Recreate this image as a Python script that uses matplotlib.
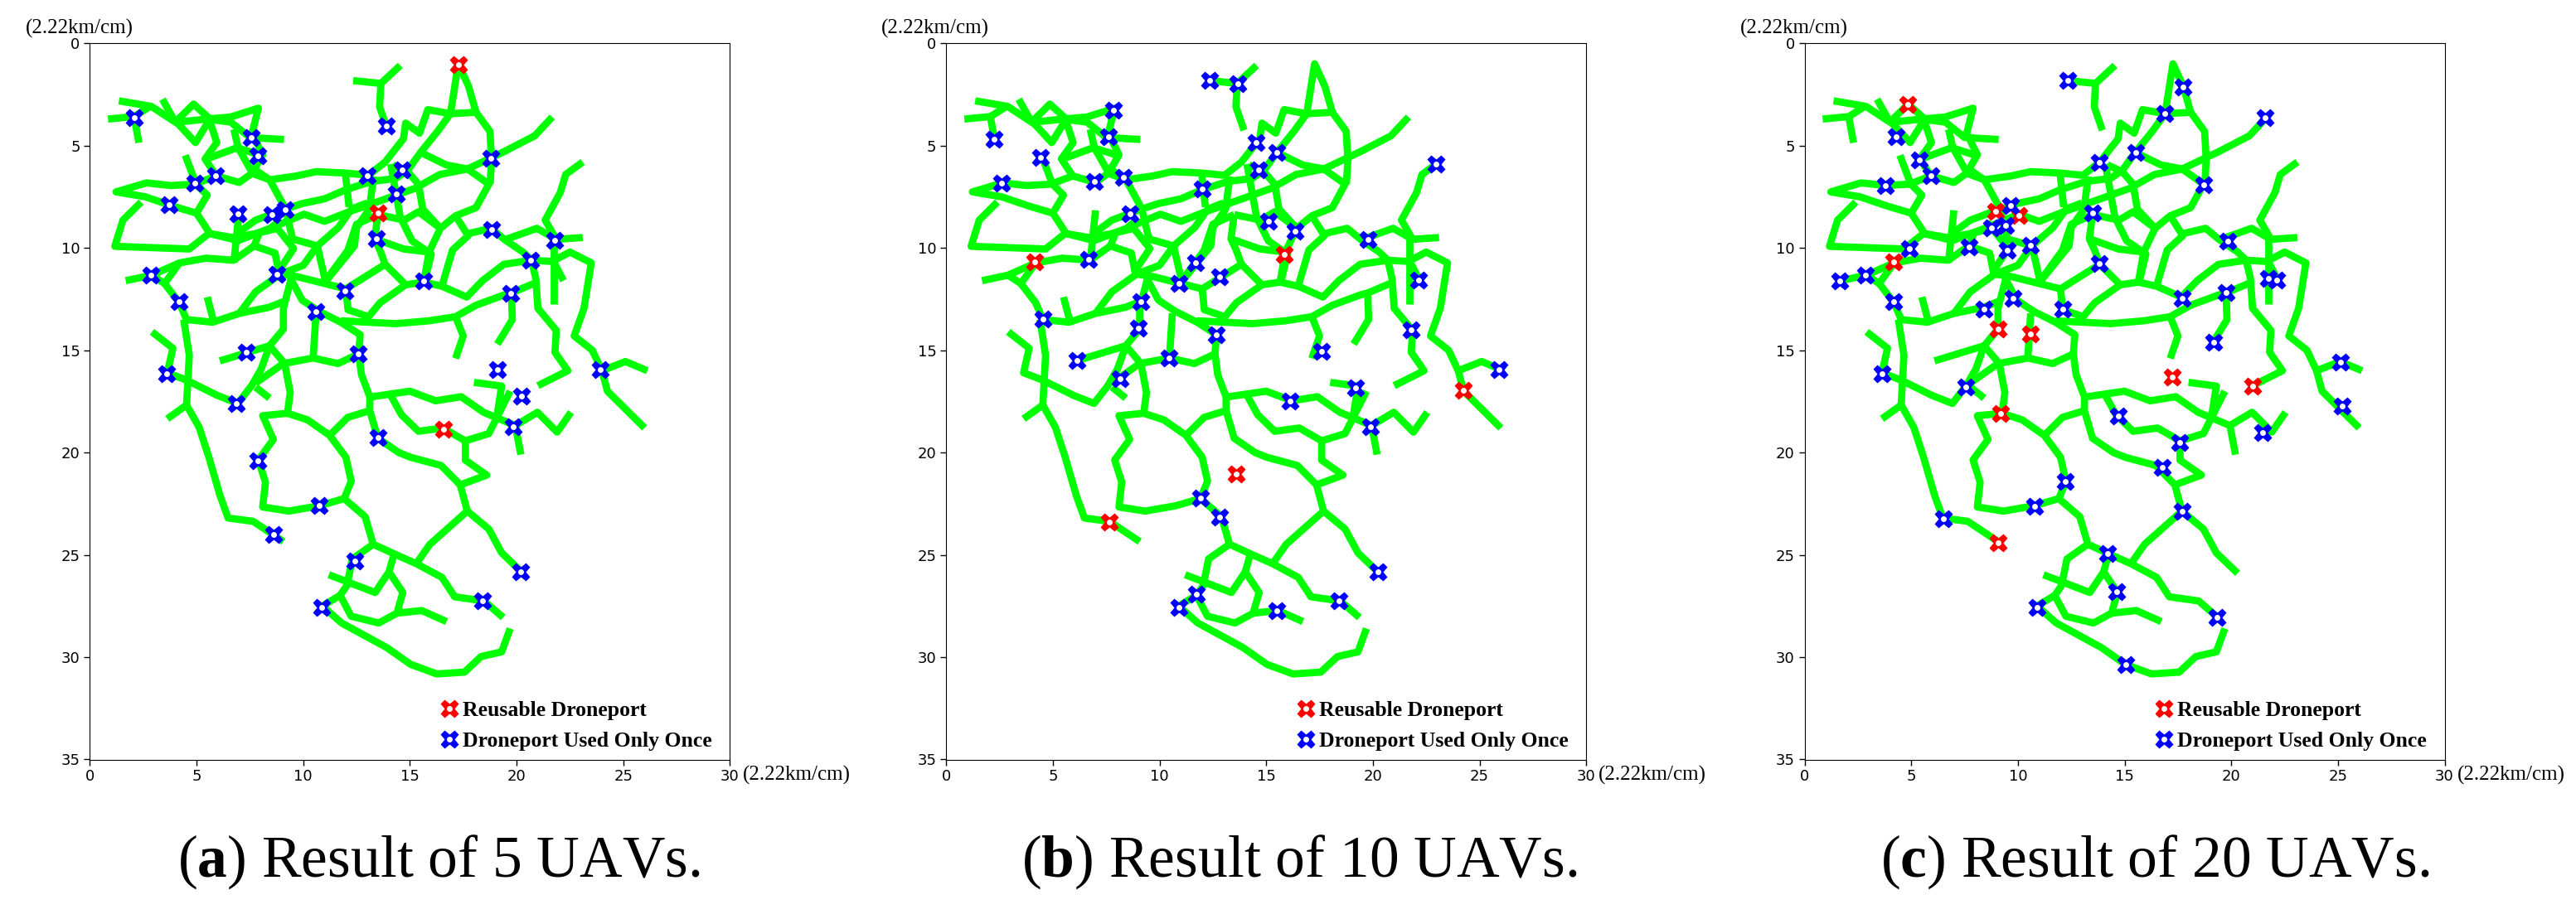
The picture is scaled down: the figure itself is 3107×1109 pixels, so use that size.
import matplotlib
matplotlib.use("Agg")
import matplotlib.pyplot as plt
from matplotlib.legend_handler import HandlerTuple
from matplotlib.lines import Line2D

plt.rcParams["mathtext.fontset"] = "custom"
plt.rcParams["mathtext.rm"] = "Liberation Serif"
plt.rcParams["mathtext.bf"] = "Liberation Serif:bold"

W, H = 3107, 1109
AX_LEFT = [108.4, 1141.2, 2176.5]
AX_WIDTH = 772.0
AX_TOP = 52.3
AX_BOTTOM = 916.5
CAPTION_X = [214, 1232, 2268]

# road network, same in the three panels (x, y in the 2.22km/cm units)
roads = [
    [(0.85, 3.7), (2.07, 3.58), (2.88, 3.05)],
    [(2.07, 3.58), (2.3, 4.86)],
    [(1.36, 2.81), (2.88, 3.08), (4.15, 3.95), (4.95, 4.85), (5.6, 3.75)],
    [(3.4, 2.73), (4.0, 3.85)],
    [(4.0, 3.85), (4.86, 2.97), (5.57, 3.64), (5.95, 4.85), (5.4, 5.65), (5.93, 6.48), (7.0, 6.8),
     (7.6, 6.35), (8.43, 6.67), (9.69, 6.48), (10.6, 6.27), (12.0, 6.34), (13.05, 6.45), (13.84, 5.8),
     (14.7, 4.66), (14.8, 3.9), (15.45, 4.39), (15.84, 3.24), (16.9, 3.44), (18.1, 3.37), (18.75, 4.3),
     (18.83, 5.67), (18.76, 6.88)],
    [(4.1, 3.85), (5.5, 3.7), (6.6, 3.6), (7.9, 3.17), (7.6, 4.4), (8.1, 5.45), (7.6, 6.35)],
    [(5.5, 3.7), (6.6, 3.85), (7.5, 4.6), (9.1, 4.7)],
    [(6.75, 4.2), (6.95, 5.1), (7.6, 6.3)],
    [(5.6, 5.6), (6.9, 5.1), (8.1, 5.5)],
    [(16.9, 3.44), (17.27, 1.0), (17.75, 2.1), (18.1, 3.37)],
    [(16.9, 3.44), (16.3, 4.3), (15.5, 5.33), (14.9, 6.2), (14.35, 6.6), (13.2, 6.75), (12.0, 7.15),
     (11.0, 7.6), (9.95, 7.83), (9.0, 8.16), (7.77, 8.64), (6.9, 9.3)],
    [(21.67, 3.6), (20.85, 4.52), (19.4, 5.3), (17.7, 6.14), (16.4, 6.41), (15.26, 7.08), (13.6, 7.7),
     (12.15, 8.23), (11.0, 8.7), (10.04, 8.35), (8.55, 9.0), (6.94, 9.64), (5.63, 9.3), (5.0, 8.3),
     (3.9, 7.96), (2.6, 7.5), (1.23, 7.26), (2.65, 6.82), (3.8, 6.95), (4.92, 6.88), (5.93, 6.48)],
    [(15.5, 5.33), (16.7, 5.94), (17.7, 6.14), (18.7, 6.88), (18.1, 8.03), (17.14, 8.43), (16.43, 9.04),
     (15.9, 10.2), (15.65, 11.67), (16.5, 11.87), (17.66, 12.4), (18.4, 11.6), (19.4, 10.8), (20.7, 10.6),
     (21.67, 10.66), (22.5, 10.2), (23.5, 10.73), (23.16, 12.95), (22.7, 14.3), (23.55, 15.0), (24.0, 16.0),
     (24.26, 17.0), (26.0, 18.8)],
    [(17.14, 8.43), (17.73, 9.4), (17.0, 10.1), (16.5, 11.87)],
    [(17.73, 9.3), (18.8, 9.04), (19.45, 9.6), (20.3, 10.2), (20.7, 10.6), (20.9, 11.5), (21.0, 12.95),
     (21.86, 14.03), (21.8, 15.1), (22.4, 16.0), (21.0, 16.73)],
    [(19.45, 9.6), (20.95, 9.04), (21.86, 9.58), (23.1, 9.49)],
    [(21.86, 9.58), (21.34, 8.64), (22.05, 7.29), (22.3, 6.41), (23.1, 5.8)],
    [(21.73, 9.5), (21.73, 12.75)],
    [(21.8, 10.8), (22.2, 11.6)],
    [(24.0, 16.0), (25.1, 15.55), (26.13, 16.0)],
    [(12.34, 1.82), (13.64, 1.96), (14.55, 1.08)],
    [(13.64, 1.96), (13.58, 3.1), (13.96, 4.25)],
    [(13.3, 6.5), (13.1, 8.1), (12.5, 9.0), (12.4, 9.9), (11.0, 11.7)],
    [(14.1, 5.9), (14.55, 8.5), (15.1, 9.65), (16.0, 10.3), (15.7, 11.6)],
    [(14.2, 5.94), (14.9, 6.28), (15.4, 6.88), (15.6, 8.1), (16.43, 9.04)],
    [(11.96, 6.2), (12.15, 8.0)],
    [(13.5, 8.37), (13.35, 9.55), (13.6, 10.12), (13.84, 10.8), (14.8, 11.8), (15.65, 11.67)],
    [(13.35, 9.55), (14.7, 10.05), (15.9, 10.2)],
    [(13.5, 8.37), (14.74, 8.64), (15.4, 8.23), (16.43, 9.04)],
    [(13.5, 8.37), (12.5, 8.84), (12.09, 10.12), (11.05, 11.6)],
    [(14.8, 11.8), (13.6, 12.68), (13.06, 13.36), (12.1, 13.02), (12.0, 12.0), (13.84, 10.8)],
    [(5.0, 8.3), (5.5, 7.42), (4.98, 6.88), (4.47, 5.47)],
    [(5.63, 9.3), (6.74, 9.5), (7.77, 9.3), (8.8, 9.04)],
    [(2.4, 7.76), (1.55, 8.64), (1.17, 9.92), (4.66, 10.05), (5.57, 9.3)],
    [(7.0, 8.16), (6.75, 10.7)],
    [(7.7, 9.9), (7.95, 9.25)],
    [(1.68, 11.6), (2.9, 11.33), (4.2, 10.73), (5.44, 10.5), (6.74, 10.6), (7.7, 9.9), (8.68, 10.25), (8.87, 11.27),
     (9.7, 11.4), (12.0, 12.0)],
    [(2.9, 11.33), (3.5, 11.74), (4.2, 12.68), (4.53, 13.5), (5.76, 13.63), (7.0, 13.2), (8.4, 12.9), (9.13, 12.6)],
    [(3.5, 11.74), (4.2, 10.73)],
    [(5.5, 12.4), (5.83, 13.7)],
    [(7.0, 13.2), (7.77, 12.14), (8.94, 11.27), (10.0, 10.85), (10.66, 9.9), (11.65, 9.0), (12.27, 8.09), (13.0, 7.8)],
    [(10.66, 9.9), (11.03, 11.58)],
    [(9.3, 9.5), (10.66, 9.9)],
    [(8.55, 8.73), (9.55, 10.03), (8.8, 11.2)],
    [(7.7, 6.15), (8.43, 6.67), (9.17, 8.09), (9.55, 9.77)],
    [(9.46, 11.4), (9.07, 12.95), (9.07, 13.97), (8.42, 14.78), (8.03, 15.92), (7.58, 16.73), (6.93, 17.6),
     (5.96, 17.2), (4.53, 16.46), (3.63, 16.1), (3.89, 14.9), (2.91, 14.1)],
    [(4.4, 13.5), (4.66, 15.25), (4.53, 17.68), (3.63, 18.35)],
    [(4.53, 17.68), (5.12, 18.76), (5.58, 20.23), (6.1, 22.1), (6.48, 23.2), (7.65, 23.36), (9.07, 24.35)],
    [(6.09, 15.52), (8.42, 14.78), (9.13, 15.65), (9.39, 17.07), (9.26, 18.08), (8.1, 18.2), (8.6, 19.36),
     (7.9, 20.36), (8.23, 21.45), (8.1, 22.66), (9.33, 22.86), (10.76, 22.6), (11.92, 22.25), (12.9, 23.13),
     (13.28, 24.48), (14.26, 24.95), (15.3, 25.43), (16.5, 26.1), (17.1, 27.05), (18.47, 27.25), (19.37, 28.06)],
    [(7.77, 16.6), (9.07, 15.65), (10.47, 15.38), (11.63, 15.65), (12.6, 15.18)],
    [(7.77, 16.8), (8.42, 17.34)],
    [(10.6, 13.2), (10.47, 15.3)],
    [(9.26, 18.08), (10.2, 18.4), (11.24, 19.16), (12.0, 20.23), (12.25, 21.4), (11.92, 22.25)],
    [(11.24, 19.16), (12.09, 18.28), (13.12, 17.95)],
    [(9.46, 11.6), (9.95, 12.55), (10.73, 13.09), (11.76, 13.63), (12.67, 14.24), (12.6, 15.18), (12.73, 16.2),
     (13.12, 17.27), (13.12, 17.95), (13.5, 19.3), (14.48, 20.0), (15.03, 20.23), (16.46, 20.63), (17.36, 21.58),
     (17.69, 22.86), (18.7, 23.74), (19.3, 24.9), (20.3, 25.9)],
    [(17.36, 21.58), (18.6, 21.1), (17.6, 20.37), (17.6, 19.43), (18.7, 19.07), (19.07, 18.3), (19.3, 16.75), (18.0, 16.57)],
    [(19.7, 17.0), (19.07, 18.3)],
    [(13.25, 17.27), (15.0, 17.0), (16.2, 17.47), (17.4, 17.27), (18.45, 18.03), (19.94, 18.68), (20.98, 18.03),
     (21.9, 19.0), (22.55, 18.03)],
    [(19.94, 18.68), (20.2, 20.1)],
    [(14.1, 17.2), (14.6, 18.15), (15.4, 18.96), (16.55, 18.8), (17.6, 19.43)],
    [(11.76, 13.56), (14.35, 13.7), (15.9, 13.56), (17.14, 13.36), (18.1, 12.8), (19.4, 12.3), (19.76, 12.2), (20.8, 11.74)],
    [(19.76, 12.2), (19.8, 13.5), (19.1, 14.7)],
    [(17.14, 13.36), (17.5, 14.3), (17.14, 15.4)],
    [(15.3, 25.43), (15.94, 24.48), (17.69, 22.86)],
    [(14.26, 24.95), (14.02, 25.83), (13.37, 26.84), (11.2, 25.97)],
    [(14.02, 25.83), (14.67, 26.84), (14.39, 27.85), (13.54, 28.33), (12.25, 28.0), (11.73, 26.98)],
    [(14.39, 27.85), (15.55, 27.72), (16.72, 28.26)],
    [(13.28, 24.48), (12.3, 25.2), (12.05, 26.5), (11.73, 26.98), (10.9, 27.5), (11.8, 28.33), (13.93, 29.54),
     (15.03, 30.35), (16.26, 30.82), (17.56, 30.73), (18.34, 29.97), (19.3, 29.74), (19.7, 28.6)],
]

reuse_a = [(17.26, 1.03), (13.51, 8.29), (16.56, 18.88)]
once_a = [(2.08, 3.64), (7.56, 4.6), (7.88, 5.5), (13.91, 4.03), (18.8, 5.63), (14.65, 6.2), (12.99, 6.48),
          (5.88, 6.48), (4.93, 6.85), (14.36, 7.34), (3.72, 7.9), (6.94, 8.32), (8.55, 8.37), (9.17, 8.14),
          (18.82, 9.09), (13.44, 9.56), (21.8, 9.61), (20.65, 10.59), (2.85, 11.31), (8.78, 11.29),
          (15.65, 11.62), (11.95, 12.09), (19.74, 12.22), (4.17, 12.63), (10.61, 13.1), (7.31, 15.09),
          (12.57, 15.16), (19.09, 15.94), (23.93, 15.94), (3.6, 16.15), (20.23, 17.26), (6.87, 17.59),
          (19.86, 18.73), (13.49, 19.25), (7.86, 20.38), (10.74, 22.6), (8.63, 24.02), (12.42, 25.29),
          (20.2, 25.83), (18.4, 27.25), (10.86, 27.56)]

reuse_b = [(4.16, 10.69), (15.85, 10.31), (24.25, 16.97), (13.6, 21.03), (7.65, 23.38)]
once_b = [(12.36, 1.81), (13.67, 1.96), (7.83, 3.25), (7.6, 4.57), (2.25, 4.68), (14.52, 4.83), (15.51, 5.32),
          (4.43, 5.58), (22.96, 5.89), (14.66, 6.2), (8.3, 6.56), (6.96, 6.77), (2.58, 6.85), (11.99, 7.13),
          (8.6, 8.34), (15.11, 8.71), (16.35, 9.17), (19.79, 9.58), (6.69, 10.54), (11.69, 10.72),
          (12.83, 11.42), (22.15, 11.57), (10.92, 11.75), (9.12, 12.63), (8.99, 13.9), (4.53, 13.48),
          (21.8, 14.0), (12.68, 14.26), (17.59, 15.06), (10.45, 15.37), (6.14, 15.5), (8.15, 16.4),
          (19.2, 16.82), (25.91, 15.96), (16.1, 17.49), (19.87, 18.73), (11.94, 22.24), (12.83, 23.15),
          (20.24, 25.83), (18.4, 27.25), (11.72, 26.94), (10.9, 27.56), (15.51, 27.74)]

reuse_c = [(4.83, 2.97), (8.97, 8.21), (10.06, 8.42), (4.16, 10.69), (9.09, 13.95), (10.6, 14.21),
           (17.24, 16.3), (21.0, 16.74), (9.19, 18.08), (9.07, 24.39)]
once_c = [(12.34, 1.81), (17.74, 2.12), (16.89, 3.44), (21.6, 3.62), (4.29, 4.55), (15.51, 5.32), (5.4, 5.71),
          (13.82, 5.81), (5.92, 6.48), (18.73, 6.92), (3.77, 6.97), (9.66, 7.93), (13.5, 8.29), (8.77, 9.02),
          (9.44, 8.89), (19.82, 9.66), (10.6, 9.87), (4.93, 10.02), (7.7, 9.97), (9.49, 10.1), (13.82, 10.75),
          (2.87, 11.31), (1.66, 11.62), (21.75, 11.5), (22.15, 11.57), (19.77, 12.19), (17.69, 12.45),
          (9.76, 12.45), (4.19, 12.63), (8.4, 12.97), (12.09, 12.99), (19.17, 14.6), (25.12, 15.58),
          (3.62, 16.15), (7.56, 16.79), (25.19, 17.72), (14.69, 18.21), (21.48, 19.01), (17.59, 19.5),
          (16.77, 20.72), (12.24, 21.42), (10.78, 22.63), (17.69, 22.86), (6.51, 23.22), (14.22, 24.95),
          (14.64, 26.81), (10.9, 27.56), (19.32, 28.06), (15.06, 30.35)]

panels = [(reuse_a, once_a, "a", "5"), (reuse_b, once_b, "b", "10"), (reuse_c, once_c, "c", "20")]
unit_label = "(2.22km/cm)"
legend_labels = ["Reusable Droneport", "Droneport Used Only Once"]


def draw_ports(ax, ports, colour):
    xs = [p[0] for p in ports]
    ys = [p[1] for p in ports]
    ax.plot(xs, ys, ls="", marker="X", ms=16.5, mfc=colour, mec="none", zorder=3)
    ax.plot(xs, ys, ls="", marker="o", ms=5, mfc="white", mec="none", zorder=4)


fig = plt.figure(figsize=(W / 100, H / 100), dpi=100)

for i, (reuse, once, tag, uavs) in enumerate(panels):
    ax = fig.add_axes([AX_LEFT[i] / W, 1 - AX_BOTTOM / H, AX_WIDTH / W, (AX_BOTTOM - AX_TOP) / H])
    for road in roads:
        ax.plot([p[0] for p in road], [p[1] for p in road], color="#00ff00", lw=6.3,
                solid_capstyle="butt", solid_joinstyle="round", zorder=2)
    draw_ports(ax, reuse, "#ff0000")
    draw_ports(ax, once, "#0000ff")

    ax.set_xlim(0, 30)
    ax.set_ylim(35, 0)
    ax.set_xticks(range(0, 31, 5))
    ax.set_yticks(range(0, 36, 5))
    ax.tick_params(labelsize=13, length=5, width=1)

    wd = Line2D([], [], ls="", marker="o", ms=5, mfc="white", mec="none")
    red = Line2D([], [], ls="", marker="X", ms=16.5, mfc="#ff0000", mec="none")
    blue = Line2D([], [], ls="", marker="X", ms=16.5, mfc="#0000ff", mec="none")
    ax.legend([(red, wd), (blue, wd)], legend_labels, handler_map={tuple: HandlerTuple(ndivide=1)},
              loc="lower right", bbox_to_anchor=(0.985, 0.0), frameon=False, handlelength=0.85, handletextpad=0.2,
              labelspacing=0.55, borderpad=0.4, borderaxespad=0,
              prop={"family": "Liberation Serif", "weight": "bold", "size": 18.5})

    fig.text((AX_LEFT[i] - 78) / W, 1 - 34 / H, unit_label, family="Liberation Serif", fontsize=18, va="center")
    fig.text((AX_LEFT[i] + AX_WIDTH + 15) / W, 1 - 935 / H, unit_label, family="Liberation Serif", fontsize=18, va="center")
    fig.text(CAPTION_X[i] / W, 1 - 1058 / H, r"($\mathbf{%s}$) Result of %s UAVs." % (tag, uavs),
             family="Liberation Serif", fontsize=51.5, va="baseline")

fig.savefig("out.png", dpi=100)
